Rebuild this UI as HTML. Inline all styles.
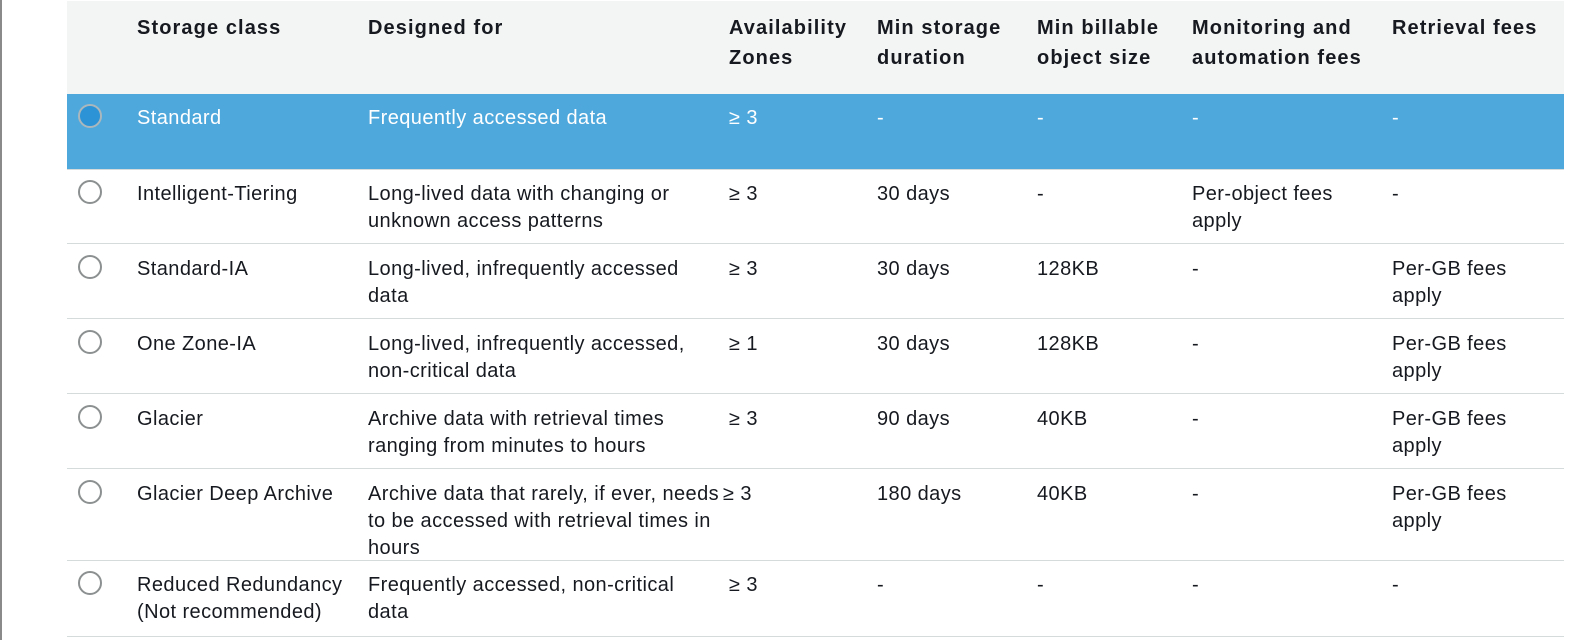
<!DOCTYPE html>
<html><head><meta charset="utf-8"><style>
body{margin:0;width:1571px;height:640px;background:#fff;position:relative;overflow:hidden;font-family:"Liberation Sans",Arial,sans-serif;font-size:20px;letter-spacing:0.42px;color:#16191f;}
.lb{position:absolute;left:0;top:0;width:2px;height:640px;background:#8a8a8a}
.hd{position:absolute;left:67px;top:1px;width:1497px;height:93px;background:#f3f4f4}
.sel{position:absolute;left:67px;top:94px;width:1497px;height:75px;background:#4fa8dc}
.ln{position:absolute;left:67px;width:1497px;height:1px;background:#d5dbdb}
.t{position:absolute;line-height:27px;white-space:nowrap}
.b{font-weight:bold;letter-spacing:1.1px;line-height:30px}
.w{color:#fff}
.r{position:absolute;left:78px;width:24px;height:24px;border:2px solid #8c9090;border-radius:50%;box-sizing:border-box;background:#fff}
.r.on{background:#2b93d6;border-color:#aab7bd}
</style></head><body>
<div class="lb"></div>
<div class="hd"></div>
<div class="sel"></div>
<div class="t b" style="left:137px;top:13px">Storage class</div>
<div class="t b" style="left:368px;top:13px">Designed for</div>
<div class="t b" style="left:729px;top:13px">Availability<br>Zones</div>
<div class="t b" style="left:877px;top:13px">Min storage<br>duration</div>
<div class="t b" style="left:1037px;top:13px">Min billable<br>object size</div>
<div class="t b" style="left:1192px;top:13px">Monitoring and<br>automation fees</div>
<div class="t b" style="left:1392px;top:13px">Retrieval fees</div>

<div class="r on" style="top:104px"></div>
<div class="t w" style="left:137px;top:105px">Standard</div>
<div class="t w" style="left:368px;top:105px">Frequently accessed data</div>
<div class="t w" style="left:729px;top:105px">≥ 3</div>
<div class="t w" style="left:877px;top:105px">-</div>
<div class="t w" style="left:1037px;top:105px">-</div>
<div class="t w" style="left:1192px;top:105px">-</div>
<div class="t w" style="left:1392px;top:105px">-</div>
<div class="ln" style="top:169px"></div>

<div class="r" style="top:180px"></div>
<div class="t" style="left:137px;top:181px">Intelligent-Tiering</div>
<div class="t" style="left:368px;top:181px">Long-lived data with changing or<br>unknown access patterns</div>
<div class="t" style="left:729px;top:181px">≥ 3</div>
<div class="t" style="left:877px;top:181px">30 days</div>
<div class="t" style="left:1037px;top:181px">-</div>
<div class="t" style="left:1192px;top:181px">Per-object fees<br>apply</div>
<div class="t" style="left:1392px;top:181px">-</div>
<div class="ln" style="top:243px"></div>

<div class="r" style="top:255px"></div>
<div class="t" style="left:137px;top:256px">Standard-IA</div>
<div class="t" style="left:368px;top:256px">Long-lived, infrequently accessed<br>data</div>
<div class="t" style="left:729px;top:256px">≥ 3</div>
<div class="t" style="left:877px;top:256px">30 days</div>
<div class="t" style="left:1037px;top:256px">128KB</div>
<div class="t" style="left:1192px;top:256px">-</div>
<div class="t" style="left:1392px;top:256px">Per-GB fees<br>apply</div>
<div class="ln" style="top:318px"></div>

<div class="r" style="top:330px"></div>
<div class="t" style="left:137px;top:331px">One Zone-IA</div>
<div class="t" style="left:368px;top:331px">Long-lived, infrequently accessed,<br>non-critical data</div>
<div class="t" style="left:729px;top:331px">≥ 1</div>
<div class="t" style="left:877px;top:331px">30 days</div>
<div class="t" style="left:1037px;top:331px">128KB</div>
<div class="t" style="left:1192px;top:331px">-</div>
<div class="t" style="left:1392px;top:331px">Per-GB fees<br>apply</div>
<div class="ln" style="top:393px"></div>

<div class="r" style="top:405px"></div>
<div class="t" style="left:137px;top:406px">Glacier</div>
<div class="t" style="left:368px;top:406px">Archive data with retrieval times<br>ranging from minutes to hours</div>
<div class="t" style="left:729px;top:406px">≥ 3</div>
<div class="t" style="left:877px;top:406px">90 days</div>
<div class="t" style="left:1037px;top:406px">40KB</div>
<div class="t" style="left:1192px;top:406px">-</div>
<div class="t" style="left:1392px;top:406px">Per-GB fees<br>apply</div>
<div class="ln" style="top:468px"></div>

<div class="r" style="top:480px"></div>
<div class="t" style="left:137px;top:481px">Glacier Deep Archive</div>
<div class="t" style="left:368px;top:481px">Archive data that rarely, if ever, needs<br>to be accessed with retrieval times in<br>hours</div>
<div class="t" style="left:723px;top:481px">≥ 3</div>
<div class="t" style="left:877px;top:481px">180 days</div>
<div class="t" style="left:1037px;top:481px">40KB</div>
<div class="t" style="left:1192px;top:481px">-</div>
<div class="t" style="left:1392px;top:481px">Per-GB fees<br>apply</div>
<div class="ln" style="top:560px"></div>

<div class="r" style="top:571px"></div>
<div class="t" style="left:137px;top:572px">Reduced Redundancy<br>(Not recommended)</div>
<div class="t" style="left:368px;top:572px">Frequently accessed, non-critical<br>data</div>
<div class="t" style="left:729px;top:572px">≥ 3</div>
<div class="t" style="left:877px;top:572px">-</div>
<div class="t" style="left:1037px;top:572px">-</div>
<div class="t" style="left:1192px;top:572px">-</div>
<div class="t" style="left:1392px;top:572px">-</div>
<div class="ln" style="top:636px"></div>
</body></html>
